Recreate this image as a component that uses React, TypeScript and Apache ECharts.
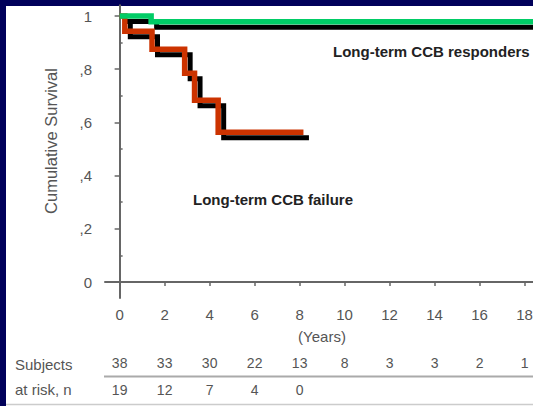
import React, { useEffect, useRef } from "react";
import * as echarts from "echarts";

// Follow-up time (years) and Kaplan–Meier estimates
const tickYears = [0, 2, 4, 6, 8, 10, 12, 14, 16, 18];
const responderRisk = [38, 33, 30, 22, 13, 8, 3, 3, 2, 1];
const failureRisk = [19, 12, 7, 4, 0];
const survTicks = [0, 0.2, 0.4, 0.6, 0.8, 1];
const survMinorTicks = [0.1, 0.3, 0.5, 0.7, 0.9];

// [years, cumulative survival after the step]
const responderCurve = [
  [0, 1],
  [1.4, 0.978],
  [19.5, 0.978],
];
const failureCurve = [
  [0, 1],
  [0.23, 0.943],
  [1.44, 0.875],
  [2.89, 0.785],
  [3.33, 0.683],
  [4.38, 0.563],
  [8.17, 0.563],
];

const FONT = '"Liberation Sans", Arial, Helvetica, sans-serif';
const GREY = "#555555";
const CANVAS_W = 600;

export default function App() {
  const ref = useRef<HTMLDivElement>(null);

  useEffect(() => {
    document.body.style.margin = "0";
    if (!ref.current) return;
    const chart = echarts.init(ref.current, null, { renderer: "svg" });

    const xMin = -0.65;
    const xMax = 19.5;
    const yMin = -0.06;
    const yMax = 1.04;
    const pxPerYear = 22.5;
    const pxPerUnit = 266;
    const gridLeft = 105;
    const gridTop = 282 - yMax * pxPerUnit;
    const gridW = (xMax - xMin) * pxPerYear;
    const gridH = (yMax - yMin) * pxPerUnit;
    const shade = 5.5;

    const hiddenAxis = {
      axisLine: { show: false },
      axisTick: { show: false },
      axisLabel: { show: false },
      splitLine: { show: false },
    };

    const riskAxis = (values: number[], margin: number) => ({
      type: "value",
      gridIndex: 0,
      position: "bottom",
      min: xMin,
      max: xMax,
      axisLine: { show: false },
      axisTick: { show: false },
      splitLine: { show: false },
      axisLabel: {
        customValues: tickYears.slice(0, values.length),
        formatter: (v: number) => String(values[tickYears.indexOf(Math.round(v))]),
        margin,
        fontSize: 14,
        color: GREY,
        fontFamily: FONT,
      },
    });

    chart.setOption({
      animation: false,
      backgroundColor: "transparent",
      grid: [
        { left: gridLeft, top: gridTop, width: gridW, height: gridH },
        { left: gridLeft + shade, top: gridTop + shade, width: gridW, height: gridH },
      ],
      xAxis: [
        {
          type: "value",
          gridIndex: 0,
          position: "bottom",
          min: xMin,
          max: xMax,
          axisLine: { show: true, lineStyle: { color: "#666666", width: 2 } },
          axisTick: {
            show: true,
            customValues: tickYears,
            length: 4,
            lineStyle: { color: "#666666", width: 1.5 },
          },
          axisLabel: {
            customValues: tickYears,
            margin: 9,
            fontSize: 15,
            color: GREY,
            fontFamily: FONT,
          },
          splitLine: { show: false },
        },
        riskAxis(responderRisk, 58),
        riskAxis(failureRisk, 85),
        { type: "value", gridIndex: 1, min: xMin, max: xMax, ...hiddenAxis },
      ],
      yAxis: [
        {
          type: "value",
          gridIndex: 0,
          min: yMin,
          max: yMax,
          axisLine: { show: true, lineStyle: { color: "#666666", width: 2 } },
          axisTick: {
            show: true,
            customValues: survTicks,
            length: 5,
            lineStyle: { color: "#666666", width: 1.5 },
          },
          axisLabel: {
            customValues: survTicks,
            formatter: (v: number) =>
              v === 0 ? "0" : v === 1 ? "1" : "," + Math.round(v * 10),
            margin: 13,
            fontSize: 15,
            color: GREY,
            fontFamily: FONT,
          },
          splitLine: { show: false },
        },
        {
          type: "value",
          gridIndex: 0,
          min: yMin,
          max: yMax,
          axisLine: { show: false },
          axisTick: {
            show: true,
            customValues: survMinorTicks,
            length: 3,
            lineStyle: { color: "#666666", width: 1.5 },
          },
          axisLabel: { show: false },
          splitLine: { show: false },
        },
        { type: "value", gridIndex: 1, min: yMin, max: yMax, ...hiddenAxis },
      ],
      series: [
        {
          type: "line",
          xAxisIndex: 3,
          yAxisIndex: 2,
          step: "end",
          data: responderCurve,
          symbol: "none",
          lineStyle: { color: "#000000", width: 5, join: "miter" },
        },
        {
          type: "line",
          xAxisIndex: 3,
          yAxisIndex: 2,
          step: "end",
          data: failureCurve,
          symbol: "none",
          lineStyle: { color: "#000000", width: 5, join: "miter" },
        },
        {
          type: "line",
          xAxisIndex: 0,
          yAxisIndex: 0,
          step: "end",
          data: failureCurve,
          symbol: "none",
          lineStyle: { color: "#cc3300", width: 5.5, join: "miter" },
        },
        {
          type: "line",
          xAxisIndex: 0,
          yAxisIndex: 0,
          step: "end",
          data: responderCurve,
          symbol: "none",
          lineStyle: { color: "#00cc66", width: 5.5, join: "miter" },
        },
      ],
      graphic: [
        {
          type: "text",
          left: 333,
          top: 44,
          style: {
            text: "Long-term CCB responders",
            fontSize: 15,
            fontWeight: "bold",
            fontFamily: FONT,
            fill: "#222222",
          },
        },
        {
          type: "text",
          left: 193,
          top: 192,
          style: {
            text: "Long-term CCB failure",
            fontSize: 15,
            fontWeight: "bold",
            fontFamily: FONT,
            fill: "#222222",
          },
        },
        {
          type: "text",
          x: 322,
          y: 336,
          style: {
            text: "(Years)",
            fontSize: 15,
            fontFamily: FONT,
            fill: GREY,
            align: "center",
            verticalAlign: "middle",
          },
        },
        {
          type: "text",
          x: 51,
          y: 141,
          rotation: Math.PI / 2,
          style: {
            text: "Cumulative Survival",
            fontSize: 16.5,
            fontFamily: FONT,
            fill: GREY,
            align: "center",
            verticalAlign: "middle",
          },
        },
        {
          type: "text",
          x: 15,
          y: 364,
          style: {
            text: "Subjects",
            fontSize: 15,
            fontFamily: FONT,
            fill: GREY,
            verticalAlign: "middle",
          },
        },
        {
          type: "text",
          x: 15,
          y: 389,
          style: {
            text: "at risk, n",
            fontSize: 15,
            fontFamily: FONT,
            fill: GREY,
            verticalAlign: "middle",
          },
        },
        {
          type: "line",
          shape: { x1: 104, y1: 376.5, x2: CANVAS_W, y2: 376.5 },
          style: { stroke: "#aaaaaa", lineWidth: 2 },
        },
        {
          type: "line",
          shape: { x1: 6, y1: 404.5, x2: CANVAS_W, y2: 404.5 },
          style: { stroke: "#cccccc", lineWidth: 1.5 },
        },
      ],
    });

    return () => chart.dispose();
  }, []);

  return (
    <div style={{ position: "relative", width: 533, height: 406, background: "#00005a", overflow: "hidden" }}>
      <div style={{ position: "absolute", left: 6, top: 6, width: 527, height: 400, background: "#ffffff" }} />
      <div ref={ref} style={{ position: "absolute", left: 0, top: 0, width: CANVAS_W, height: 406 }} />
    </div>
  );
}
